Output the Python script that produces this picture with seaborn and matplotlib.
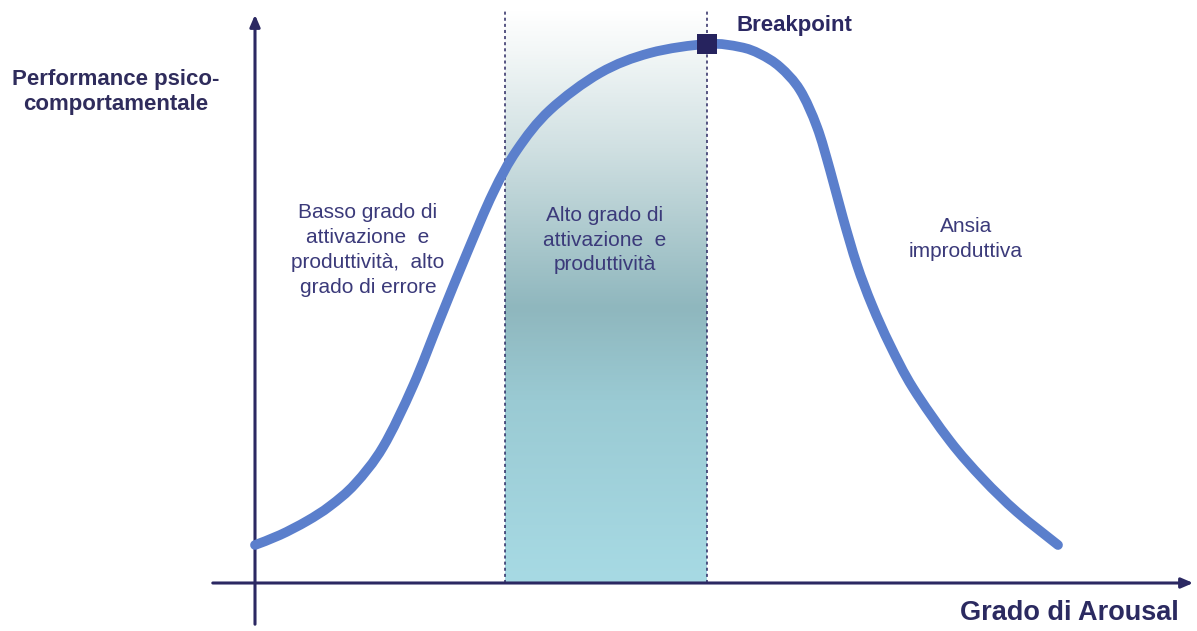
import numpy as np
import pandas as pd
import matplotlib
matplotlib.use('Agg')
import matplotlib.pyplot as plt
from matplotlib.colors import LinearSegmentedColormap
from matplotlib.path import Path
from matplotlib.patches import PathPatch
import seaborn as sns

# curva performance / arousal (origine = incrocio degli assi)
arousal = [0, 25, 52, 75, 100, 128, 158, 185, 212, 238, 262, 295, 345, 395, 452,
           485, 505, 525, 545, 562, 575, 588, 602, 617, 635, 658, 695, 728, 762, 803]
performance = [38, 48, 62, 77, 99, 136, 197, 264, 330, 390, 433, 473, 510, 530, 539,
               536, 529, 516, 493, 456, 413, 365, 318, 278, 238, 195, 142, 104, 71, 38]

# zona ottimale e breakpoint
zone_start = 250
zone_end = 452
breakpoint_x = [452]
breakpoint_y = [539]

region_labels = ["Basso grado di\nattivazione  e\nproduttività,  alto\ngrado di errore",
                 "Alto grado di\nattivazione  e\nproduttività",
                 "Ansia\nimproduttiva"]
region_pos = [(113, 333), (350, 343), (711, 344)]

navy = '#2b2862'
text_col = '#3b3a7a'
curve_col = '#5b7fcc'

sns.set_style("white")
plt.rcParams['font.family'] = ['Liberation Sans', 'DejaVu Sans']

fig = plt.figure(figsize=(11.97, 6.31), dpi=100)
ax = fig.add_axes([0, 0, 1, 1])
ax.set_xlim(-255, 942)
ax.set_ylim(-48, 583)
ax.axis('off')

# sfondo sfumato della zona centrale
grad_cmap = LinearSegmentedColormap.from_list(
    'zona', [(0.0, '#a7dae4'), (0.32, '#9acad3'), (0.48, '#8fb7be'),
             (0.62, '#afcbcf'), (0.76, '#d0e0e2'), (0.93, '#f3f7f7'), (1.0, '#ffffff')])
grad = np.linspace(0, 1, 256).reshape(-1, 1)
ax.imshow(grad, cmap=grad_cmap, origin='lower', aspect='auto',
          extent=[zone_start, zone_end, 0, 573], zorder=0)

for xv in [zone_start, zone_end]:
    ax.plot([xv, xv], [0, 573], color=navy, lw=1.1, ls=(0, (2, 2)), zorder=1)

# assi con frecce
ax.annotate('', xy=(0, 571), xytext=(0, -44),
            arrowprops=dict(arrowstyle='-|>,head_length=0.7,head_width=0.3',
                            color=navy, lw=2.2), zorder=2)
ax.annotate('', xy=(941, 0), xytext=(-45, 0),
            arrowprops=dict(arrowstyle='-|>,head_length=0.7,head_width=0.3',
                            color=navy, lw=2.2), zorder=2)

# curva liscia passante per i punti (Catmull-Rom -> Bezier cubiche)
pts = np.column_stack([arousal, performance]).astype(float)
verts = [pts[0]]
codes = [Path.MOVETO]
for i in range(len(pts) - 1):
    p0 = pts[max(i - 1, 0)]
    p1 = pts[i]
    p2 = pts[i + 1]
    p3 = pts[min(i + 2, len(pts) - 1)]
    verts += [p1 + (p2 - p0) / 6, p2 - (p3 - p1) / 6, p2]
    codes += [Path.CURVE4] * 3
ax.add_patch(PathPatch(Path(verts, codes), facecolor='none', edgecolor=curve_col,
                       lw=7, capstyle='round', joinstyle='round', zorder=3))

bp = pd.DataFrame({'x': breakpoint_x, 'y': breakpoint_y})
sns.scatterplot(data=bp, x='x', y='y', ax=ax, marker='s', s=200, color='#26235e',
                edgecolor='#26235e', linewidth=0, zorder=4)
ax.axis('off')

ax.text(breakpoint_x[0] + 30, 558, 'Breakpoint', fontsize=16, fontweight='bold',
        color=navy, ha='left', va='center')

ax.text(-139, 491, 'Performance psico-\ncomportamentale', fontsize=16,
        fontweight='bold', color='#2f2c5c', ha='center', va='center', linespacing=1.3)
ax.text(924, -30, 'Grado di Arousal', fontsize=19.5, fontweight='bold',
        color='#2b2a60', ha='right', va='center')

for lab, (xx, yy) in zip(region_labels, region_pos):
    ax.text(xx, yy, lab, fontsize=15, color=text_col, ha='center', va='center',
            linespacing=1.38)

plt.savefig('out.png', dpi=100)
plt.close()
